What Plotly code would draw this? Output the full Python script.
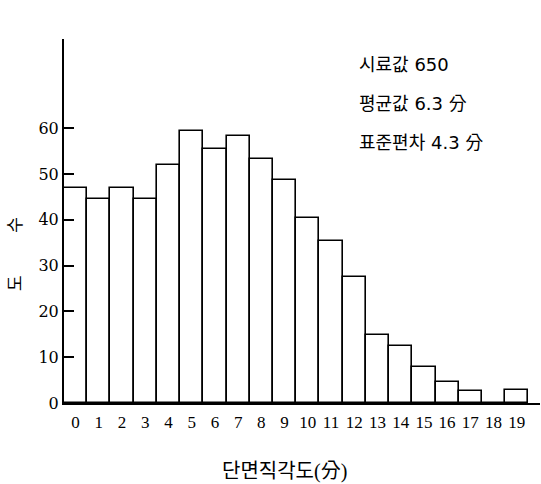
import plotly.graph_objects as go

categories = list(range(20))
tick_labels = [str(c) for c in categories]
counts = [47, 44.5, 47, 44.5, 52, 59.5, 55.5, 58.3, 53.4, 48.8,
          40.5, 35.3, 27.5, 14.8, 12.5, 7.8, 4.6, 2.6, 0, 2.8]
y_ticks = [0, 10, 20, 30, 40, 50, 60]
info_lines = ["시료값 650", "평균값 6.3 分", "표준편차 4.3 分"]
x_title = "단면직각도(分)"
y_title = "도" + "\u00a0" * 10 + "수"

SERIF = "Liberation Serif, Noto Sans CJK KR, serif"
WIDE = "DejaVu Serif, Noto Sans CJK KR, serif"
ANN = "DejaVu Sans, Noto Sans CJK KR, sans-serif"

W, H = 541, 484
L, R, T, B = 64, 1, 39, 81
pw, ph = W - L - R, H - T - B


def px_x(p):
    return (p - L) / pw


def px_y(p):
    return (H - B - p) / ph


fig = go.Figure(go.Bar(
    x=categories, y=counts, width=1.0,
    marker=dict(color="white", line=dict(color="black", width=1.6)),
))

anns = []
for i, txt in enumerate(info_lines):
    anns.append(dict(x=px_x(357), y=px_y(65 + 38.5 * i), xref="paper", yref="paper",
                     text=txt, showarrow=False, xanchor="left", yanchor="middle",
                     font=dict(family=ANN, size=18, color="black")))
anns.append(dict(x=px_x(284), y=px_y(471), xref="paper", yref="paper", text=x_title,
                 showarrow=False, xanchor="center", yanchor="middle",
                 font=dict(family=SERIF, size=20, color="black")))
anns.append(dict(x=px_x(15), y=px_y(254), xref="paper", yref="paper", text=y_title,
                 showarrow=False, xanchor="center", yanchor="middle", textangle=-90,
                 font=dict(family=SERIF, size=17, color="black")))

fig.update_layout(
    width=W, height=H,
    margin=dict(l=L, r=R, t=T, b=B, autoexpand=False),
    plot_bgcolor="white", paper_bgcolor="white",
    showlegend=False, bargap=0,
    font=dict(family=SERIF, size=17, color="black"),
    annotations=anns,
    xaxis=dict(range=[-0.5, 20.0], tickmode="array", tickvals=categories, ticktext=tick_labels,
               showline=True, linecolor="black", linewidth=2, showgrid=False, zeroline=False,
               ticks="", ticklabelstandoff=3, tickfont=dict(family=SERIF, size=17), automargin=False),
    yaxis=dict(range=[0, 79.5], tickmode="array", tickvals=y_ticks,
               showline=True, linecolor="black", linewidth=2, showgrid=False, zeroline=False,
               ticks="inside", ticklen=10, tickwidth=1.5, tickcolor="black",
               tickfont=dict(family=WIDE, size=16), automargin=False),
)

fig.write_html("out.html", config={"displayModeBar": False},
               post_script="document.body.style.margin='0';document.body.style.overflow='hidden';")
